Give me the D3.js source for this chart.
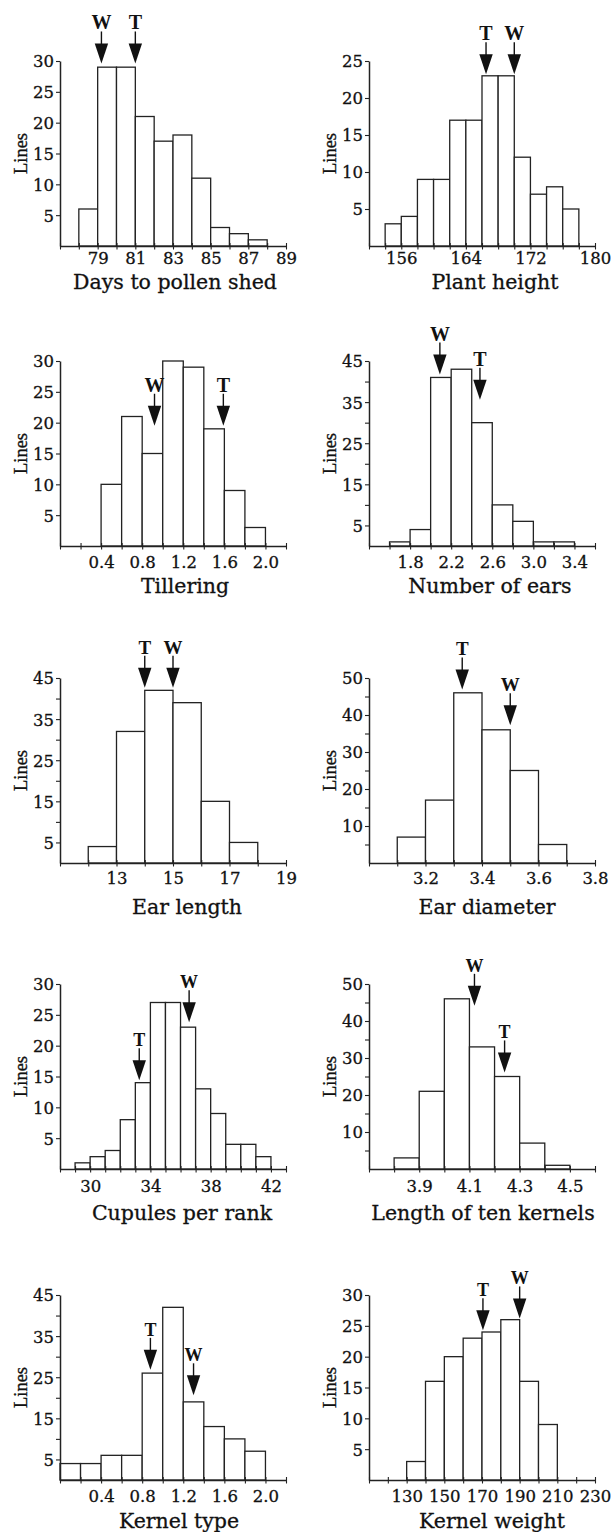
<!DOCTYPE html>
<html><head><meta charset="utf-8">
<script src="https://cdn.jsdelivr.net/npm/d3@7"></script>
<style>body{margin:0;background:#fff}</style>
</head><body>
<svg id="c" width="615" height="1532"></svg>
<script>
// ---------- DATA ----------
// 1 Days to pollen shed
const daysBins = [78,79,80,81,82,83,84,85,86,87];
const daysCounts = [6,29,29,21,17,18,11,3,2,1];
const daysXLabels = [79,81,83,85,87,89];
const daysYLabels = [5,10,15,20,25,30];
const daysMarkers = [{label:"W", value:79.2, at:29.6},{label:"T", value:81.0, at:29.6}];
// 2 Plant height
const heightBins = [154,156,158,160,162,164,166,168,170,172,174,176];
const heightCounts = [3,4,9,9,17,17,23,23,12,7,8,5];
const heightXLabels = [156,164,172,180];
const heightYLabels = [5,10,15,20,25];
const heightMarkers = [{label:"T", value:166.5, at:23.2},{label:"W", value:170.0, at:23.2}];
// 3 Tillering
const tillBins = [0.4,0.6,0.8,1.0,1.2,1.4,1.6,1.8];
const tillCounts = [10,21,15,30,29,19,9,3];
const tillXLabels = ["0.4","0.8","1.2","1.6","2.0"];
const tillYLabels = [5,10,15,20,25,30];
const tillMarkers = [{label:"W", value:0.92, at:19.5},{label:"T", value:1.59, at:19.5}];
// 4 Number of ears
const earsBins = [1.6,1.8,2.0,2.2,2.4,2.6,2.8,3.0,3.2];
const earsCounts = [1,4,41,43,30,10,6,1,1];
const earsXLabels = ["1.8","2.2","2.6","3.0","3.4"];
const earsYLabels = [5,15,25,35,45];
const earsMarkers = [{label:"W", value:2.09, at:41.7},{label:"T", value:2.48, at:35.6}];
// 5 Ear length
const lenBins = [12,13,14,15,16,17];
const lenCounts = [4,32,42,39,15,5];
const lenXLabels = [13,15,17,19];
const lenYLabels = [5,15,25,35,45];
const lenMarkers = [{label:"T", value:14.0, at:42.6},{label:"W", value:15.0, at:42.6}];
// 6 Ear diameter
const diamBins = [3.1,3.2,3.3,3.4,3.5,3.6];
const diamCounts = [7,17,46,36,25,5];
const diamXLabels = ["3.2","3.4","3.6","3.8"];
const diamYLabels = [10,20,30,40,50];
const diamMarkers = [{label:"T", value:3.33, at:46.9},{label:"W", value:3.50, at:37.2}];
// 7 Cupules per rank
const cupBins = [29,30,31,32,33,34,35,36,37,38,39,40,41];
const cupCounts = [1,2,3,8,14,27,27,23,13,9,4,4,2];
const cupXLabels = [30,34,38,42];
const cupYLabels = [5,10,15,20,25,30];
const cupMarkers = [{label:"T", value:33.26, at:14.4},{label:"W", value:36.57, at:23.8}];
// 8 Length of ten kernels
const tenBins = [3.8,3.9,4.0,4.1,4.2,4.3,4.4];
const tenCounts = [3,21,46,33,25,7,1];
const tenXLabels = ["3.9","4.1","4.3","4.5"];
const tenYLabels = [10,20,30,40,50];
const tenMarkers = [{label:"W", value:4.12, at:44.1},{label:"T", value:4.24, at:26.1}];
// 9 Kernel type
const typeBins = [0,0.2,0.4,0.6,0.8,1.0,1.2,1.4,1.6,1.8];
const typeCounts = [4,4,6,6,26,42,19,13,10,7];
const typeXLabels = ["0.4","0.8","1.2","1.6","2.0"];
const typeYLabels = [5,15,25,35,45];
const typeMarkers = [{label:"T", value:0.88, at:26.8},{label:"W", value:1.30, at:20.6}];
// 10 Kernel weight
const wtBins = [130,140,150,160,170,180,190,200];
const wtCounts = [3,16,20,23,24,26,16,9];
const wtXLabels = [130,150,170,190,210,230];
const wtYLabels = [5,10,15,20,25,30];
const wtMarkers = [{label:"T", value:170.5, at:24.3},{label:"W", value:190.0, at:26.2}];

// ---------- PANEL SETUP ----------
const panels = [
  {title:"Days to pollen shed", bins:daysBins, counts:daysCounts, bw:1, xd:[77,89], xstep:1, yMax:30, ystep:5, xl:daysXLabels, yl:daysYLabels, mk:daysMarkers},
  {title:"Plant height", bins:heightBins, counts:heightCounts, bw:2, xd:[152,180], xstep:2, yMax:25, ystep:5, xl:heightXLabels, yl:heightYLabels, mk:heightMarkers},
  {title:"Tillering", bins:tillBins, counts:tillCounts, bw:0.2, xd:[0,2.2], xstep:0.2, yMax:30, ystep:5, xl:tillXLabels, yl:tillYLabels, mk:tillMarkers},
  {title:"Number of ears", bins:earsBins, counts:earsCounts, bw:0.2, xd:[1.4,3.6], xstep:0.2, yMax:45, ystep:5, xl:earsXLabels, yl:earsYLabels, mk:earsMarkers},
  {title:"Ear length", bins:lenBins, counts:lenCounts, bw:1, xd:[11,19], xstep:1, yMax:45, ystep:5, xl:lenXLabels, yl:lenYLabels, mk:lenMarkers},
  {title:"Ear diameter", bins:diamBins, counts:diamCounts, bw:0.1, xd:[3.0,3.8], xstep:0.1, yMax:50, ystep:5, xl:diamXLabels, yl:diamYLabels, mk:diamMarkers},
  {title:"Cupules per rank", bins:cupBins, counts:cupCounts, bw:1, xd:[28,43], xstep:1, yMax:30, ystep:5, xl:cupXLabels, yl:cupYLabels, mk:cupMarkers},
  {title:"Length of ten kernels", bins:tenBins, counts:tenCounts, bw:0.1, xd:[3.7,4.6], xstep:0.1, yMax:50, ystep:5, xl:tenXLabels, yl:tenYLabels, mk:tenMarkers},
  {title:"Kernel type", bins:typeBins, counts:typeCounts, bw:0.2, xd:[0,2.2], xstep:0.2, yMax:45, ystep:5, xl:typeXLabels, yl:typeYLabels, mk:typeMarkers},
  {title:"Kernel weight", bins:wtBins, counts:wtCounts, bw:10, xd:[110,230], xstep:10, yMax:30, ystep:5, xl:wtXLabels, yl:wtYLabels, mk:wtMarkers}
];

// layout
const colX = [60, 369];
const rowBase = [246, 546, 863, 1169, 1480];
const plotW = 226, plotH = 185;
const tickLabOff = [12.5, 16, 15, 17, 16];
const titleOff = [36, 40, 44, 44, 41];
const titleDx = [2, 13, 12, 8, 14, 5, 9, 1, 6, 10];
const markFont = [20, 20, 19, 18, 18];

const SERIF = "'DejaVu Serif', serif";
const TIMES = "'Liberation Serif', serif";
const INK = "#111";
const svg = d3.select("#c");

function heavy(sel, w) {
  sel.attr("stroke", INK).attr("stroke-width", w).attr("paint-order", "stroke");
}

panels.forEach((p, i) => {
  const col = i % 2, row = Math.floor(i / 2);
  const ax = colX[col], base = rowBase[row], top = base - plotH;
  const x = d3.scaleLinear().domain(p.xd).range([ax, ax + plotW]);
  const y = d3.scaleLinear().domain([0, p.yMax]).range([base, top]);
  const g = svg.append("g");

  // bars
  g.selectAll("rect").data(p.bins).join("rect")
    .attr("x", d => x(d))
    .attr("y", (d, j) => y(p.counts[j]))
    .attr("width", d => x(d + p.bw) - x(d))
    .attr("height", (d, j) => y(0) - y(p.counts[j]))
    .attr("fill", "#fff").attr("stroke", "#222").attr("stroke-width", 1.3);

  // x axis ticks
  const nT = Math.round((p.xd[1] - p.xd[0]) / p.xstep);
  const xt = d3.range(nT + 1).map(k => +(p.xd[0] + k * p.xstep).toFixed(4));
  const gx = g.append("g").attr("transform", `translate(0,${base})`)
    .call(d3.axisBottom(x).tickValues(xt).tickSize(3).tickSizeOuter(0).tickFormat(""));
  gx.selectAll(".tick line").attr("y1", -3).attr("y2", 3.5).attr("stroke", "#222").attr("stroke-width", 1.1);
  gx.select(".domain").attr("stroke", "#222").attr("stroke-width", 1.7);
  const gxl = g.append("g").attr("transform", `translate(0,${base})`)
    .call(d3.axisBottom(x).tickValues(p.xl.map(Number)).tickSize(0).tickFormat((d, j) => p.xl[j]));
  gxl.select(".domain").remove();
  gxl.selectAll("text").attr("y", tickLabOff[row]).attr("dy", "0.36em")
    .attr("font-family", SERIF).attr("font-size", 16.5).attr("fill", INK).call(heavy, 0.3);

  // y axis
  const yt = d3.range(1, Math.round(p.yMax / p.ystep) + 1).map(k => k * p.ystep);
  const gy = g.append("g").attr("transform", `translate(${ax},0)`)
    .call(d3.axisLeft(y).tickValues(yt).tickSize(4).tickSizeOuter(0)
      .tickFormat(d => p.yl.includes(d) ? d : ""));
  gy.select(".domain").attr("stroke", "#222").attr("stroke-width", 1.5);
  gy.selectAll(".tick line").attr("stroke", "#222").attr("stroke-width", 1.1);
  gy.selectAll("text").attr("x", -6).attr("dy", "0.36em")
    .attr("font-family", SERIF).attr("font-size", 16.5).attr("fill", INK).call(heavy, 0.3);

  // y label
  g.append("text")
    .attr("transform", `translate(${ax - 40},${top + plotH / 2}) rotate(-90)`)
    .attr("text-anchor", "middle").attr("dy", "0.36em")
    .attr("font-family", TIMES).attr("font-size", 18.5).attr("fill", INK).call(heavy, 0.35)
    .text("Lines");

  // x title
  g.append("text")
    .attr("x", ax + plotW / 2 + titleDx[i]).attr("y", base + titleOff[row])
    .attr("dy", "0.36em").attr("text-anchor", "middle")
    .attr("font-family", SERIF).attr("font-size", 20.5).attr("fill", INK).call(heavy, 0.3)
    .text(p.title);

  // markers (arrows)
  const mg = g.selectAll("g.mk").data(p.mk).join("g").attr("class", "mk")
    .attr("transform", d => `translate(${x(d.value)},${y(d.at)})`);
  mg.append("path").attr("d", "M0,0 L-6.7,-20 L6.7,-20 Z").attr("fill", INK);
  mg.append("line").attr("x1", 0).attr("x2", 0).attr("y1", -19).attr("y2", -32)
    .attr("stroke", INK).attr("stroke-width", 1.4);
  mg.append("text").attr("y", -34).attr("text-anchor", "middle")
    .attr("font-family", TIMES).attr("font-weight", "bold")
    .attr("font-size", markFont[row]).attr("fill", INK)
    .text(d => d.label);
});
</script></body></html>
